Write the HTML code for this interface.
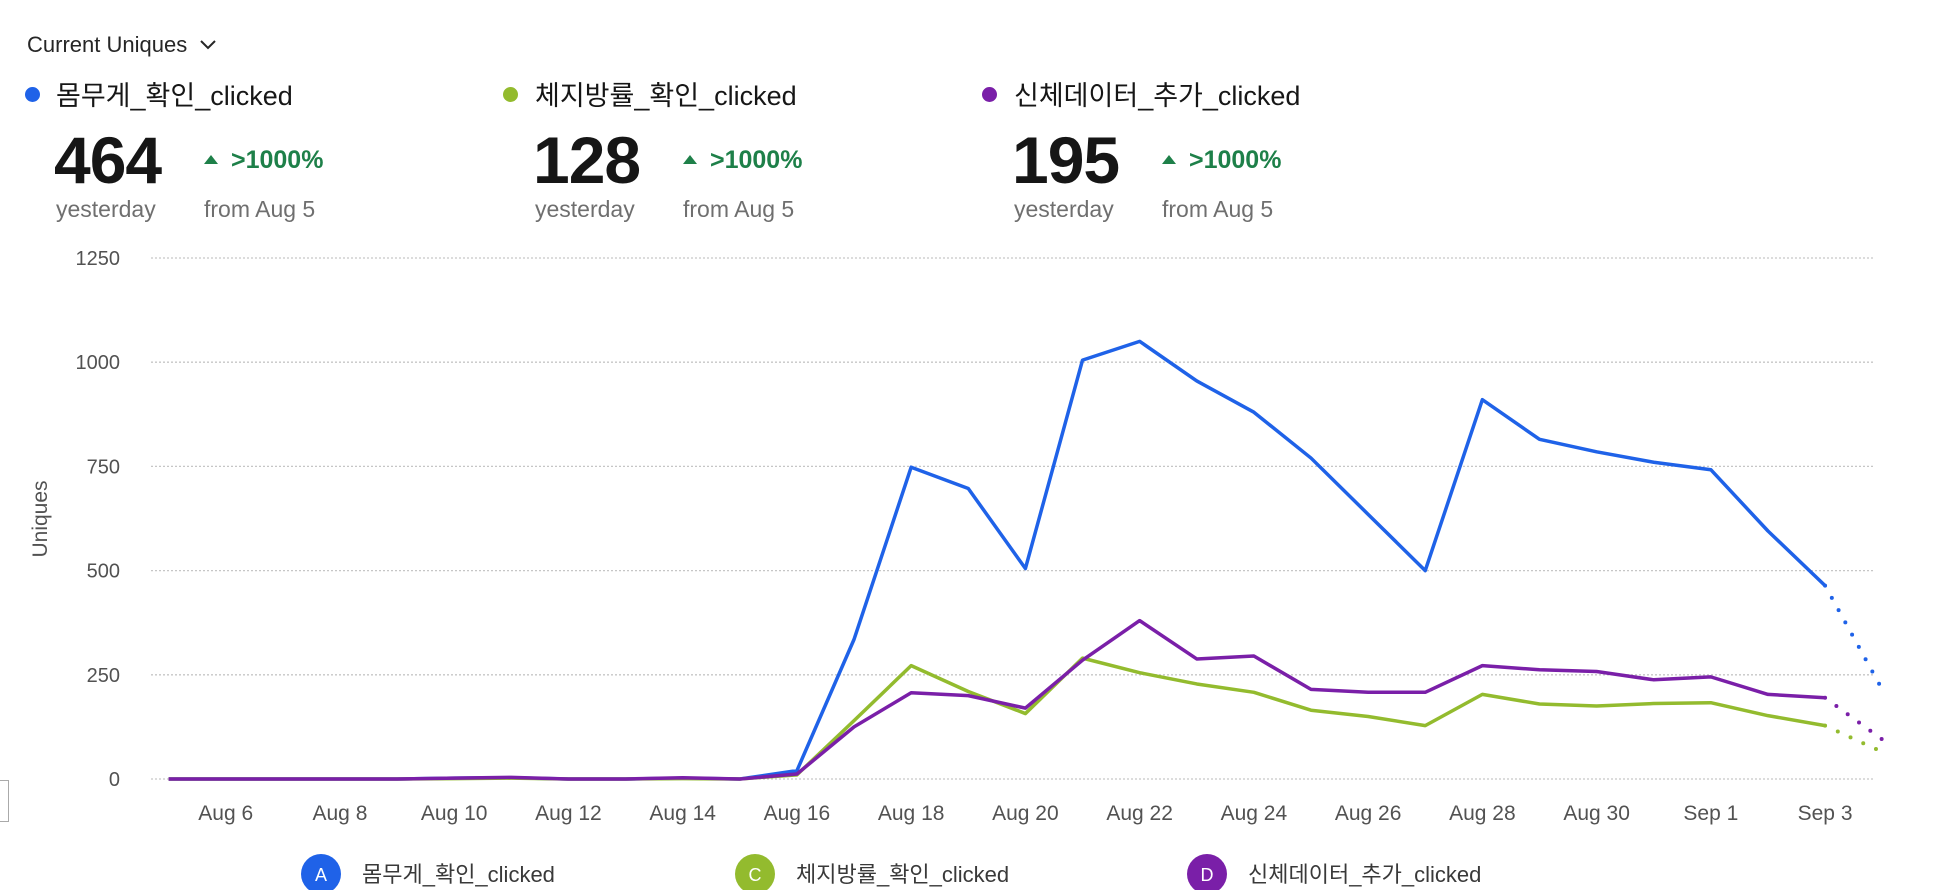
<!DOCTYPE html>
<html><head><meta charset="utf-8">
<style>
body{margin:0;width:1936px;height:890px;background:#fff;font-family:"Liberation Sans","Noto Sans CJK KR",sans-serif;color:#161616;position:relative;overflow:hidden}
.abs{position:absolute;white-space:nowrap}
.sel{left:27px;top:32px;font-size:22px;color:#262626}
.dot{width:15px;height:15px;border-radius:50%}
.name{font-size:27px;color:#161616}
.big{font-size:66px;font-weight:bold;color:#161616;letter-spacing:-1px}
.pct{font-size:25px;font-weight:bold;color:#1e8049}
.sub{font-size:23px;color:#6f6f6f}
.tri{width:0;height:0;border-left:7px solid transparent;border-right:7px solid transparent;border-bottom:9px solid #1e8049}
</style></head><body>
<div class="abs sel">Current Uniques <svg width="18" height="14" viewBox="0 0 18 14" style="margin-left:6px"><path d="M2 3 L9 10 L16 3" fill="none" stroke="#262626" stroke-width="2"/></svg></div>

<div>
<div class="abs dot" style="left:25px;top:87px;background:#1f62e8"></div>
<div class="abs name" style="left:56px;top:74px">몸무게_확인_clicked</div>
<div class="abs big" style="left:54px;top:122px">464</div>
<div class="abs tri" style="left:204px;top:155px"></div>
<div class="abs pct" style="left:231px;top:146px">&gt;1000%</div>
<div class="abs sub" style="left:56px;top:196px">yesterday</div>
<div class="abs sub" style="left:204px;top:196px">from Aug 5</div>
</div>
<div>
<div class="abs dot" style="left:503px;top:87px;background:#93bb2e"></div>
<div class="abs name" style="left:535px;top:74px">체지방률_확인_clicked</div>
<div class="abs big" style="left:533px;top:122px">128</div>
<div class="abs tri" style="left:683px;top:155px"></div>
<div class="abs pct" style="left:710px;top:146px">&gt;1000%</div>
<div class="abs sub" style="left:535px;top:196px">yesterday</div>
<div class="abs sub" style="left:683px;top:196px">from Aug 5</div>
</div>
<div>
<div class="abs dot" style="left:982px;top:87px;background:#7a1fa8"></div>
<div class="abs name" style="left:1014px;top:74px">신체데이터_추가_clicked</div>
<div class="abs big" style="left:1012px;top:122px">195</div>
<div class="abs tri" style="left:1162px;top:155px"></div>
<div class="abs pct" style="left:1189px;top:146px">&gt;1000%</div>
<div class="abs sub" style="left:1014px;top:196px">yesterday</div>
<div class="abs sub" style="left:1162px;top:196px">from Aug 5</div>
</div>

<div class="abs" style="left:-2px;top:780px;width:9px;height:40px;border:1px solid #aaa"></div>

<svg id="chart" class="abs" style="left:0;top:0" width="1936" height="890"></svg>

<script>
const dates=["Aug 5","Aug 6","Aug 7","Aug 8","Aug 9","Aug 10","Aug 11","Aug 12","Aug 13","Aug 14","Aug 15","Aug 16","Aug 17","Aug 18","Aug 19","Aug 20","Aug 21","Aug 22","Aug 23","Aug 24","Aug 25","Aug 26","Aug 27","Aug 28","Aug 29","Aug 30","Aug 31","Sep 1","Sep 2","Sep 3","Sep 4"];
const seriesA=[0,0,0,0,0,2,3,0,0,2,0,20,335,748,697,505,1005,1050,955,880,770,635,500,910,815,785,760,742,595,464,215];
const seriesC=[0,0,0,0,0,1,2,0,0,1,0,10,140,272,210,157,290,255,228,208,165,150,128,203,180,175,181,183,152,128,65];
const seriesD=[0,0,0,0,0,2,4,0,0,3,0,12,125,207,200,170,285,380,288,295,215,208,208,272,262,258,238,245,203,195,95];
const yTicks=[0,250,500,750,1000,1250];
const xTickLabels=["Aug 6","Aug 8","Aug 10","Aug 12","Aug 14","Aug 16","Aug 18","Aug 20","Aug 22","Aug 24","Aug 26","Aug 28","Aug 30","Sep 1","Sep 3"];
const seriesNames=["몸무게_확인_clicked","체지방률_확인_clicked","신체데이터_추가_clicked"];
const seriesLetters=["A","C","D"];
const colors=["#1f62e8","#93bb2e","#7a1fa8"];

const svg=document.getElementById('chart');
const NS="http://www.w3.org/2000/svg";
const x0=168.6, dx=57.12, yBase=779, yTop=258, yMax=1250;
const xs=i=>x0+i*dx;
const ys=v=>yBase-(v/yMax)*(yBase-yTop);
function mk(t,a){const e=document.createElementNS(NS,t);for(const k in a)e.setAttribute(k,a[k]);svg.appendChild(e);return e;}

yTicks.forEach(v=>{
  const g=mk('line',{x1:151,x2:1874,y1:ys(v),y2:ys(v),stroke:'#c6c6c6','stroke-width':1.3,'stroke-dasharray':'2 2'});
  
  
  const t=mk('text',{x:120,y:ys(v)+7,'text-anchor':'end','font-size':20,fill:'#525252','font-family':'Liberation Sans, sans-serif'});
  t.textContent=v;
  
  
});
xTickLabels.forEach(l=>{
  const i=dates.indexOf(l);
  const t=mk('text',{x:xs(i),y:820,'text-anchor':'middle','font-size':21,fill:'#525252','font-family':'Liberation Sans, sans-serif'});
  t.textContent=l;
  
  
});
const at=mk('text',{x:0,y:0,transform:'translate(47,519) rotate(-90)','text-anchor':'middle','font-size':21,fill:'#525252','font-family':'Liberation Sans, sans-serif'});
at.textContent='Uniques';



[seriesA,seriesC,seriesD].forEach((s,k)=>{
  const n=s.length;
  const pts=s.slice(0,n-1).map((v,i)=>xs(i)+','+ys(v)).join(' ');
  const p=mk('polyline',{points:pts,fill:'none',stroke:colors[k],'stroke-width':3.5,'stroke-linejoin':'round'});
  
  
  const d=mk('line',{x1:xs(n-2),y1:ys(s[n-2]),x2:xs(n-1),y2:ys(s[n-1]),stroke:colors[k],'stroke-width':4,'stroke-dasharray':'0 14','stroke-linecap':'round'});
  
  
});

const lx=[321,755,1207];
seriesNames.forEach((nm,k)=>{
  const c=mk('circle',{cx:lx[k],cy:874,r:20,fill:colors[k]});
  
  
  const l=mk('text',{x:lx[k],y:881,'text-anchor':'middle','font-size':18,fill:'#fff','font-family':'Liberation Sans, sans-serif'});
  l.textContent=seriesLetters[k];
  
  
  const t=mk('text',{x:lx[k]+41,y:882,'font-size':22,fill:'#393939','font-family':'Liberation Sans, Noto Sans CJK KR, sans-serif'});
  t.textContent=nm;
  
  
});
</script>
</body></html>
